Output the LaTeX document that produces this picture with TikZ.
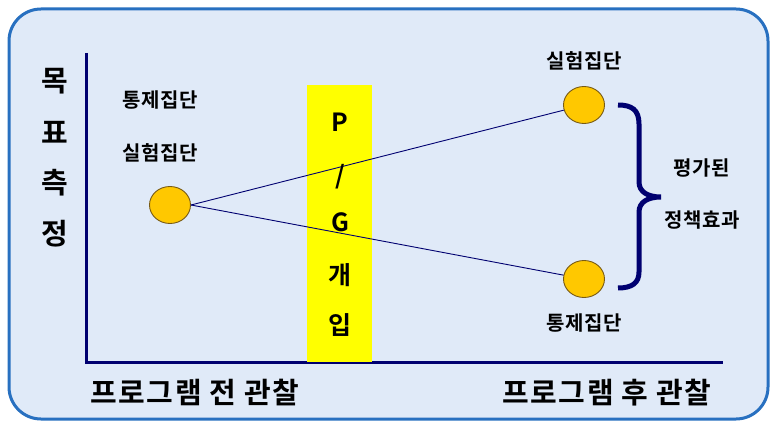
\documentclass[tikz,border=0pt]{standalone}
\usepackage{fontspec}
\setmainfont{Noto Sans CJK KR}[BoldFont={* Bold}]
\usepackage{tikz}
\usetikzlibrary{calc,positioning,shapes.geometric}
\definecolor{frameBlue}{RGB}{40,112,192}
\definecolor{bgBlue}{RGB}{224,234,248}
\definecolor{axisNavy}{RGB}{0,0,112}
\definecolor{dotGold}{RGB}{255,200,0}
\definecolor{dotEdge}{RGB}{120,90,20}
\definecolor{pgYellow}{RGB}{255,255,0}

\begin{document}
\begin{tikzpicture}[x=1pt,y=-1pt,
    grp/.style={ellipse, draw=dotEdge, fill=dotGold, line width=0.9pt,
        minimum width=41pt, minimum height=37pt, inner sep=0pt},
    lbl/.style={font=\bfseries\fontsize{20}{22}\selectfont\addfontfeature{LetterSpace=4}, inner sep=0pt},
    biglbl/.style={font=\bfseries\fontsize{29}{31}\selectfont\addfontfeature{LetterSpace=5}, inner sep=0pt},
    barlbl/.style={font=\bfseries\fontsize{25}{27}\selectfont, inner sep=0pt},
    link/.style={axisNavy, line width=0.9pt}]

\useasboundingbox (0,0) rectangle (771,422);

% =========================
% Frame
% =========================
\draw[frameBlue, line width=3pt, fill=bgBlue, rounded corners=32pt]
    (9,9) rectangle (768,419);

% =========================
% Axes
% =========================
\coordinate (ytop) at (86,53);
\coordinate (origin) at (86,362);
\coordinate (xend) at (723,362);
\draw[axisNavy, line width=3pt] (ytop) -- (origin) -- (xend);

% y-axis label, one letter per line
\foreach \ch [count=\i] in {목,표,측,정}
    \node[biglbl] (ylab\i) at (55,{81+51*(\i-1)}) {\ch};

\node[biglbl] (xpre)  at (195,393) {프로그램 전 관찰};
\node[biglbl] (xpost) at (607,393) {프로그램 후 관찰};

% =========================
% Program intervention bar
% =========================
\node[fill=pgYellow, minimum width=65pt, minimum height=277pt, inner sep=0pt]
    (pg) at (339.5,223.5) {};

% =========================
% Groups and links
% =========================
\node[grp] (pre)      at (170,205) {};
\node[grp] (expost)   at (584,105) {};
\node[grp] (ctrlpost) at (584,279) {};

\draw[link] (pre.east) -- (expost);
\draw[link] (pre.east) -- (ctrlpost);

% bar text on top of the links
\node[barlbl] (pgP)   at (340,122) {P};
\node[barlbl] (pgSl)  at (340,177) {/};
\node[barlbl] (pgG)   at (340,222) {G};
\node[barlbl] (pgGae) at (340,275) {개};
\node[barlbl] (pgIp)  at (340,325) {입};

\node[lbl] (ctrlpre) at (160,100) {통제집단};
\node[lbl] (expre)   at (160,153) {실험집단};
\node[lbl, above=16pt of expost]  (exlbl)   {실험집단};
\node[lbl, below=16pt of ctrlpost] (ctrllbl) {통제집단};

% =========================
% Brace: evaluated effect
% =========================
\draw[axisNavy, line width=5pt]
    (618,105) .. controls (632,105) and (639,110) .. (639,124)
    -- (639,182) .. controls (639,192) and (648,197) .. (661,197)
    .. controls (648,197) and (639,202) .. (639,212)
    -- (639,272) .. controls (639,283) and (632,288) .. (618,288);

\node[lbl] (eff1) at (702,168) {평가된};
\node[lbl] (eff2) at (702,220) {정책효과};

\end{tikzpicture}
\end{document}
